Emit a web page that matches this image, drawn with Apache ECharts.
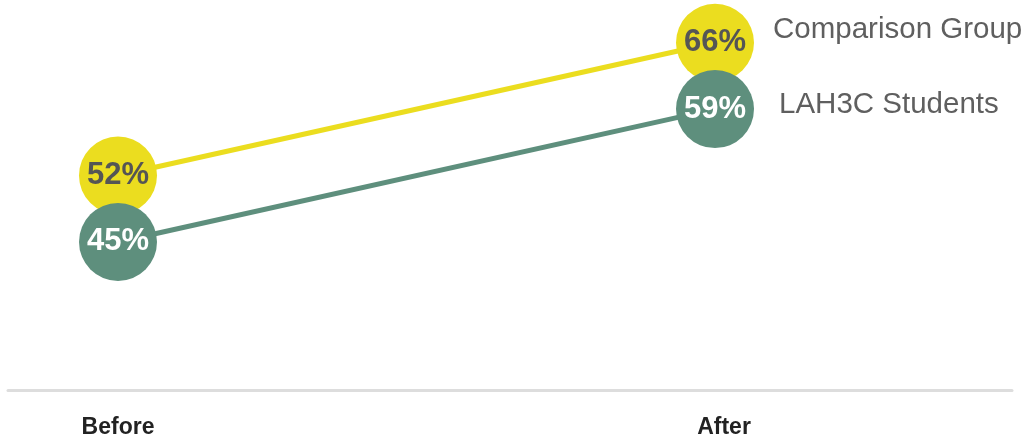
<!DOCTYPE html>
<html>
<head>
<meta charset="utf-8">
<script src="https://cdn.jsdelivr.net/npm/echarts@6/dist/echarts.min.js"></script>
<style>
html,body{margin:0;padding:0;background:#fff;}
#chart{width:1029px;height:442px;}
</style>
</head>
<body>
<div id="chart"></div>
<script>
const categories = ['Before', 'After'];
const seriesNames = ['Comparison Group', 'LAH3C Students'];
const comparisonValues = [52, 66];
const lah3cValues = [45, 59];

const chart = echarts.init(document.getElementById('chart'));
const FONT = '"Liberation Sans", Arial, Helvetica, sans-serif';
const YELLOW = '#EBDD1F';
const GREEN = '#5E8F7D';

function mkSeries(name, data, color, labelColor, endOffset) {
  return {
    name: name,
    type: 'line',
    xAxisIndex: 0,
    yAxisIndex: 0,
    data: data,
    symbol: 'circle',
    symbolSize: 78,
    lineStyle: { color: color, width: 5 },
    itemStyle: { color: color },
    label: {
      show: true,
      position: 'inside',
      formatter: '{c}%',
      color: labelColor,
      fontFamily: FONT,
      fontWeight: 'bold',
      fontSize: 31
    },
    endLabel: {
      show: true,
      formatter: '{a}',
      color: '#5f5f5f',
      fontFamily: FONT,
      fontSize: 29.5,
      offset: endOffset
    },
    emphasis: { disabled: true },
    animation: false
  };
}

chart.setOption({
  animation: false,
  grid: [
    { left: 118, right: 314, top: 0, bottom: 53 },
    { left: 8, right: 17, top: 0, bottom: 52 }
  ],
  xAxis: [
    {
      type: 'category',
      gridIndex: 0,
      data: categories,
      boundaryGap: false,
      axisLine: { show: false },
      axisTick: { show: false },
      splitLine: { show: false },
      axisLabel: {
        color: '#222',
        fontFamily: FONT,
        fontWeight: 'bold',
        fontSize: 23,
        margin: 27,
        formatter: function (v, i) { return i === 1 ? '{a|' + v + '}' : '{b|' + v + '}'; },
        rich: {
          a: { color: '#222', fontFamily: FONT, fontWeight: 'bold', fontSize: 23, padding: [0, 0, 0, 18] },
          b: { color: '#222', fontFamily: FONT, fontWeight: 'bold', fontSize: 23 }
        }
      }
    },
    {
      type: 'category',
      gridIndex: 1,
      data: categories,
      axisLine: { show: true, lineStyle: { color: '#dddddd', width: 3 } },
      axisTick: { show: false },
      axisLabel: { show: false },
      splitLine: { show: false }
    }
  ],
  yAxis: [
    { type: 'value', gridIndex: 0, min: 29.5, max: 70.5, show: false },
    { type: 'value', gridIndex: 1, min: 0, max: 1, show: false }
  ],
  series: [
    mkSeries(seriesNames[0], comparisonValues, YELLOW, '#555555', [50, -13]),
    mkSeries(seriesNames[1], lah3cValues, GREEN, '#ffffff', [56, -4])
  ]
});
</script>
</body>
</html>
